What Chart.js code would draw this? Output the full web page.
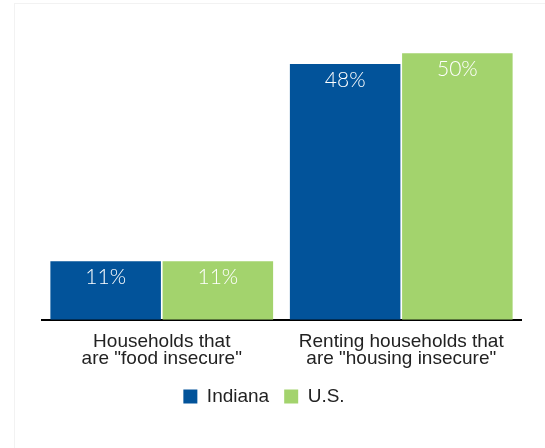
<!DOCTYPE html>
<html>
<head>
<meta charset="utf-8">
<script src="https://cdn.jsdelivr.net/npm/chart.js@4"></script>
<style>
  html, body { margin: 0; padding: 0; background: #fff; }
  .wrap { position: relative; width: 545px; height: 448px; }
  .frame { position: absolute; left: 14px; top: 3px; right: 0; bottom: 0; border-left: 1px solid #f2f2f2; border-top: 1px solid #f2f2f2; }
</style>
</head>
<body>
<div class="wrap">
  <div class="frame"></div>
  <canvas id="myChart" width="545" height="448"></canvas>
</div>
<script>
const categories = [
  ["Households that", "are \"food insecure\""],
  ["Renting households that", "are \"housing insecure\""]
];
const indianaValues = [11, 48];
const usValues = [11, 50];
const seriesNames = ["Indiana", "U.S."];

// white % labels inside top of each bar
const barLabels = {
  id: "barLabels",
  afterDatasetsDraw(chart) {
    const ctx = chart.ctx;
    ctx.save();
    ctx.fillStyle = "#ffffff";
    ctx.font = "300 21px Lato, 'Liberation Sans', sans-serif";
    ctx.textAlign = "center";
    ctx.textBaseline = "middle";
    chart.data.datasets.forEach((ds, i) => {
      chart.getDatasetMeta(i).data.forEach((bar, j) => {
        ctx.fillText(ds.data[j] + "%", bar.x, bar.y + 16);
      });
    });
    ctx.restore();
  },
};

const ctx = document.getElementById("myChart").getContext("2d");
const chartObj = {
  type: "bar",
  data: {
    labels: categories,
    datasets: [
      {
        label: seriesNames[0],
        data: indianaValues,
        backgroundColor: "#02539a",
        barPercentage: 0.985,
        categoryPercentage: 0.937,
      },
      {
        label: seriesNames[1],
        data: usValues,
        backgroundColor: "#a3d36d",
        barPercentage: 0.985,
        categoryPercentage: 0.937,
      },
    ],
  },
  options: {
    responsive: false,
    animation: false,
    layout: { padding: { left: 7, right: 24, top: 0, bottom: 32 } },
    plugins: {
      tooltip: { enabled: false },
      legend: {
        position: "bottom",
        labels: {
          color: "#222",
          boxWidth: 14,
          boxHeight: 14,
          padding: 15,
          font: { size: 19, family: "'Liberation Sans', Arial, sans-serif" },
        },
      },
    },
    scales: {
      x: {
        grid: { display: false },
        border: { display: true, color: "#000", width: 2 },
        ticks: {
          color: "#222",
          padding: 5,
          font: { size: 19, family: "'Liberation Sans', Arial, sans-serif", lineHeight: 0.9 },
        },
      },
      y: {
        display: true,
        min: 0,
        max: 60,
        grid: { display: false },
        border: { display: false },
        ticks: { display: false },
        afterFit: (scale) => { scale.width = 35; },
      },
    },
  },
  plugins: [barLabels],
};
const myChart = new Chart(ctx, chartObj);
</script>
</body>
</html>
